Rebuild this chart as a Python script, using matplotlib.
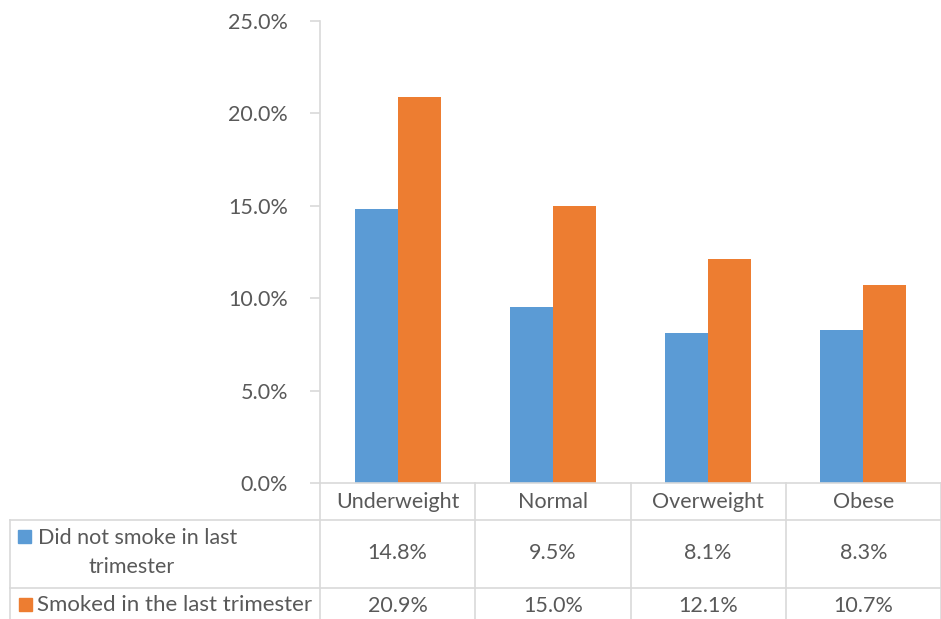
import matplotlib
matplotlib.use("Agg")
import matplotlib.pyplot as plt
import matplotlib.transforms as mtransforms
from matplotlib.lines import Line2D
from matplotlib.patches import Rectangle

categories = ["Underweight", "Normal", "Overweight", "Obese"]
series_names = ["Did not smoke in last\ntrimester", "Smoked in the last trimester"]
no_smoke = [14.8, 9.5, 8.1, 8.3]
smoked = [20.9, 15.0, 12.1, 10.7]
yticks = [0, 5, 10, 15, 20, 25]

BLUE = "#5B9BD5"
ORANGE = "#ED7D31"
GRID = "#D9D9D9"
TXT = "#595959"
FAM = ["Lato", "DejaVu Sans"]
plt.rcParams["font.family"] = FAM

W, H = 941, 619
fig = plt.figure(figsize=(W / 100, H / 100), dpi=100)

# overlay axes in pixel coordinates
tab = fig.add_axes([0, 0, 1, 1])
tab.set_xlim(0, W)
tab.set_ylim(H, 0)
tab.axis("off")

x0, x1 = 320, 941
ytop, ybot = 21, 483
ax = fig.add_axes([x0 / W, 1 - ybot / H, (x1 - x0) / W, (ybot - ytop) / H])
n = len(categories)
xs = list(range(n))
bw = 0.277
ax.bar([x - bw / 2 for x in xs], no_smoke, bw, color=BLUE, zorder=2)
ax.bar([x + bw / 2 for x in xs], smoked, bw, color=ORANGE, zorder=2)
ax.set_xlim(-0.5, n - 0.5)
ax.set_ylim(0, 25)
ax.set_yticks(yticks)
fs = 15.5
ax.set_yticklabels([f"{v:.1f}%" for v in yticks], color=TXT, fontsize=fs)
ax.set_xticks([])
for s in ["top", "right"]:
    ax.spines[s].set_visible(False)
ax.spines["left"].set_color(GRID)
ax.spines["bottom"].set_color(GRID)
ax.spines["left"].set_linewidth(1.2)
ax.spines["bottom"].set_linewidth(1.2)
ax.tick_params(axis="y", length=7, color=GRID, width=1.2, pad=16)
ax.patch.set_alpha(0)

# table
bt = mtransforms.blended_transform_factory(ax.transData, tab.transData)
lw = 1.2
for b in [x - 0.5 for x in range(n + 1)]:
    tab.add_line(Line2D([b, b], [483, 619], color=GRID, lw=lw, transform=bt))
tab.add_line(Line2D([10, 10], [520, 619], color=GRID, lw=lw))
for yy in [520, 588]:
    tab.add_line(Line2D([10, 941], [yy, yy], color=GRID, lw=lw))

for i, c in enumerate(categories):
    tab.text(i, 502, c, transform=bt, ha="center", va="center", color=TXT, fontsize=fs)
    tab.text(i, 553, f"{no_smoke[i]:.1f}%", transform=bt, ha="center", va="center", color=TXT, fontsize=fs)
    tab.text(i, 606, f"{smoked[i]:.1f}%", transform=bt, ha="center", va="center", color=TXT, fontsize=fs)

# legend keys and series names
tab.add_patch(Rectangle((18, 530), 13, 13, color=BLUE))
tab.add_patch(Rectangle((19, 598), 13, 13, color=ORANGE))
l1, l2 = series_names[0].split("\n")
tab.text(38, 538, l1, ha="left", va="center", color=TXT, fontsize=fs)
tab.text(132, 567, l2, ha="center", va="center", color=TXT, fontsize=fs)
tab.text(37, 605, series_names[1], ha="left", va="center", color=TXT, fontsize=16)

fig.savefig("out.png", dpi=100)
